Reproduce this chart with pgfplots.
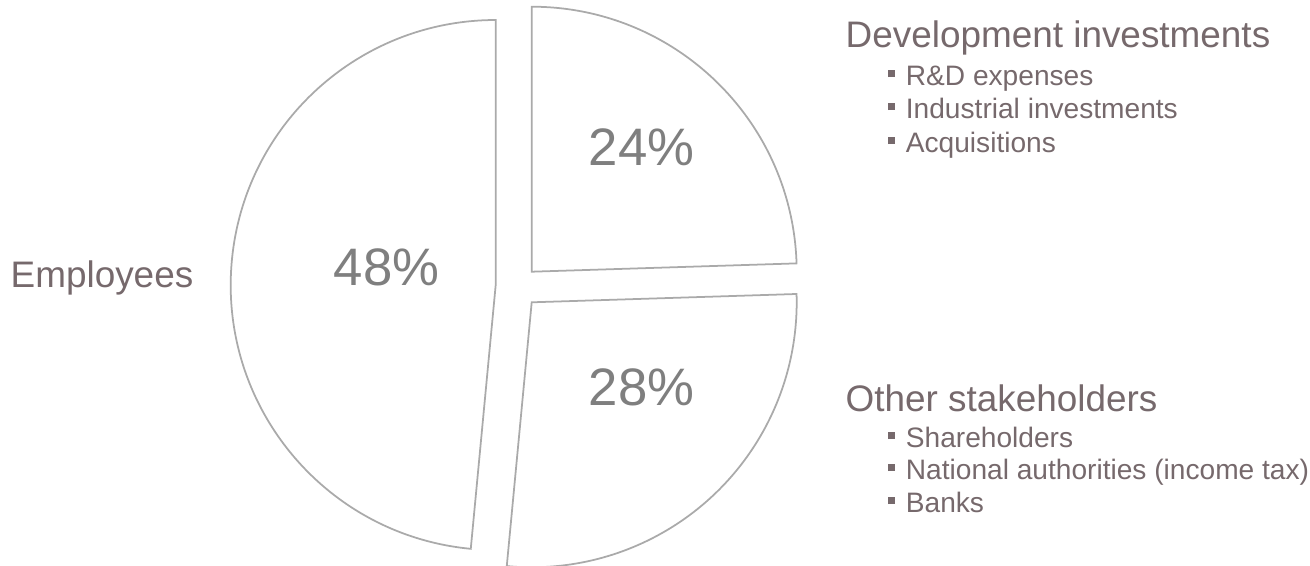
\documentclass[border=0pt]{standalone}
\usepackage{pgfplots}
\pgfplotsset{compat=1.18}
\usepackage{pgfplotstable}
\usepackage{fontspec}
\setmainfont{Liberation Sans}
\definecolor{txt}{RGB}{118,105,108}
\definecolor{pct}{RGB}{127,127,127}
\definecolor{edge}{RGB}{170,170,170}
\newcommand\bul{\textcolor{txt}{\rule[0.78mm]{0.72mm}{0.72mm}}\hspace{1.1mm}}
% slice share (percent of the circle) and position of the exploded slice's tip (pixels)
\pgfplotstableread{
label value vx vy
Development 24.5 531.7 271.7
Other 27.0 531.7 302.3
Employees 48.5 495.7 285.0
}\slices
\begin{document}%
\begin{tikzpicture}
\pgfplotstablegetelem{0}{value}\of\slices \let\va\pgfplotsretval
\pgfplotstablegetelem{1}{value}\of\slices \let\vb\pgfplotsretval
\pgfplotstablegetelem{2}{value}\of\slices \let\vc\pgfplotsretval
\pgfplotstablegetelem{0}{vx}\of\slices \let\xa\pgfplotsretval
\pgfplotstablegetelem{0}{vy}\of\slices \let\ya\pgfplotsretval
\pgfplotstablegetelem{1}{vx}\of\slices \let\xb\pgfplotsretval
\pgfplotstablegetelem{1}{vy}\of\slices \let\yb\pgfplotsretval
\pgfplotstablegetelem{2}{vx}\of\slices \let\xc\pgfplotsretval
\pgfplotstablegetelem{2}{vy}\of\slices \let\yc\pgfplotsretval
\pgfmathsetmacro\aA{90}
\pgfmathsetmacro\aB{90-3.6*\va}
\pgfmathsetmacro\aC{\aB-3.6*\vb}
\pgfmathsetmacro\aD{\aC-3.6*\vc}
\begin{axis}[
  name=ax,
  scale only axis,
  width=13.1cm, height=5.65cm,
  xmin=0, xmax=1310, ymin=0, ymax=565,
  y dir=reverse,
  hide axis,
  clip=false,
]
\filldraw[fill=white, draw=edge, line width=0.5pt, line join=miter]
  (axis cs:\xa,\ya) -- ++(\aA:2.65cm) arc[start angle=\aA, end angle=\aB, radius=2.65cm] -- cycle;
\filldraw[fill=white, draw=edge, line width=0.5pt, line join=miter]
  (axis cs:\xb,\yb) -- ++(\aB:2.65cm) arc[start angle=\aB, end angle=\aC, radius=2.65cm] -- cycle;
\filldraw[fill=white, draw=edge, line width=0.5pt, line join=miter]
  (axis cs:\xc,\yc) -- ++(\aC:2.65cm) arc[start angle=\aC, end angle=\aD, radius=2.65cm] -- cycle;

\node[anchor=base, inner sep=0pt, text=pct, font=\fontsize{15}{18}\selectfont] at (axis cs:641.5,165) {24\%};
\node[anchor=base, inner sep=0pt, text=pct, font=\fontsize{15}{18}\selectfont] at (axis cs:641.5,405) {28\%};
\node[anchor=base, inner sep=0pt, text=pct, font=\fontsize{15}{18}\selectfont] at (axis cs:386.5,285) {48\%};

\node[anchor=base west, inner sep=0pt, text=txt, font=\fontsize{10.5}{12.6}\selectfont] at (axis cs:10,287) {Employees};

\node[anchor=base west, inner sep=0pt, text=txt, font=\fontsize{10.5}{12.6}\selectfont] at (axis cs:845,47) {Development investments};
\node[anchor=base west, inner sep=0pt, text=txt, font=\fontsize{8}{9.6}\selectfont] at (axis cs:887,85) {\bul R\&D expenses};
\node[anchor=base west, inner sep=0pt, text=txt, font=\fontsize{8}{9.6}\selectfont] at (axis cs:887,118) {\bul Industrial investments};
\node[anchor=base west, inner sep=0pt, text=txt, font=\fontsize{8}{9.6}\selectfont] at (axis cs:887,152) {\bul Acquisitions};

\node[anchor=base west, inner sep=0pt, text=txt, font=\fontsize{10.5}{12.6}\selectfont] at (axis cs:845,411) {Other stakeholders};
\node[anchor=base west, inner sep=0pt, text=txt, font=\fontsize{8}{9.6}\selectfont] at (axis cs:887,447) {\bul Shareholders};
\node[anchor=base west, inner sep=0pt, text=txt, font=\fontsize{8}{9.6}\selectfont] at (axis cs:887,479) {\bul National authorities (income tax)};
\node[anchor=base west, inner sep=0pt, text=txt, font=\fontsize{8}{9.6}\selectfont] at (axis cs:887,512) {\bul Banks};
\end{axis}
\pgfresetboundingbox
\path (ax.south west) rectangle (ax.north east);
\end{tikzpicture}%
\end{document}
